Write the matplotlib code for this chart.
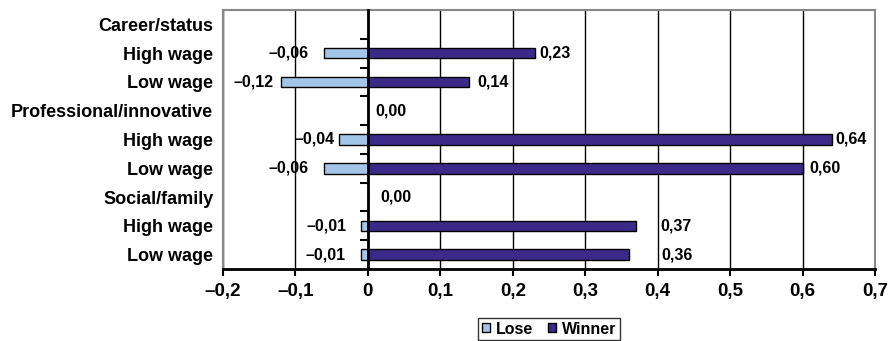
import numpy as np
import matplotlib
matplotlib.use("Agg")
import matplotlib.pyplot as plt
from matplotlib.patches import Patch

plt.rcParams['font.family'] = ['Liberation Sans', 'DejaVu Sans']
plt.rcParams['font.weight'] = 'bold'

categories = ["Career/status", "High wage", "Low wage", "Professional/innovative",
              "High wage", "Low wage", "Social/family", "High wage", "Low wage"]
lose = [np.nan, -0.06, -0.12, np.nan, -0.04, -0.06, np.nan, -0.01, -0.01]
winner = [np.nan, 0.23, 0.14, 0.00, 0.64, 0.60, 0.00, 0.37, 0.36]
xticks = [-0.2, -0.1, 0, 0.1, 0.2, 0.3, 0.4, 0.5, 0.6, 0.7]
xticklabels = ["\u20130,2", "\u20130,1", "0", "0,1", "0,2", "0,3", "0,4", "0,5", "0,6", "0,7"]

# label offsets in pixels (style, not data)
lose_gap = [0, 16, 7, 0, 4, 16, 0, 14, 15]
win_gap = [0, 5, 8, 7, 4, 7, 12, 24, 33]

def fmt(v):
    s = f"{abs(v):.2f}".replace(".", ",")
    return ("\u2013" + s) if v < 0 else s

fig = plt.figure(figsize=(8.93, 3.41), dpi=100)
ax = fig.add_axes([223/893, 1-269/341, (875-223)/893, (269-10)/341])

y = np.arange(len(categories))
c_lose = "#A3C6E8"
c_win = "#3B2A87"
h = 0.37
ax.barh(y, lose, height=h, color=c_lose, edgecolor="black", linewidth=1.0, zorder=3)
ax.barh(y, winner, height=h, color=c_win, edgecolor="black", linewidth=1.0, zorder=3)

ax.set_xlim(-0.2, 0.7)
ax.set_ylim(len(categories) - 0.5, -0.5)
ax.set_xticks(xticks)
ax.set_xticklabels(xticklabels, fontsize=13.5, fontweight='bold')
ax.set_yticks(y)
ax.set_yticklabels(categories, fontsize=13, fontweight='bold')
ax.tick_params(axis='y', length=0, pad=7)
ax.tick_params(axis='x', length=5, width=1.5, direction='out', pad=5, color='black')

ax.set_axisbelow(True)
ax.grid(axis='x', color='black', linewidth=1.0)
ax.grid(axis='y', visible=False)

for s in ['left', 'right', 'top']:
    ax.spines[s].set_color('#888888')
    ax.spines[s].set_linewidth(1.5)
ax.spines['bottom'].set_color('black')
ax.spines['bottom'].set_linewidth(2.0)

# zero axis with category ticks
ax2 = ax.twinx()
ax2.set_ylim(ax.get_ylim())
for s in ['left', 'right', 'top', 'bottom']:
    ax2.spines[s].set_visible(False)
ax2.spines['left'].set_visible(True)
ax2.spines['left'].set_position(('data', 0))
ax2.spines['left'].set_linewidth(2.0)
ax2.spines['left'].set_color('black')
ax2.yaxis.set_ticks_position('left')
ax2.set_yticks(np.arange(len(categories) - 1) + 0.5)
ax2.set_yticklabels([])
ax2.tick_params(axis='y', length=6, width=1.5, direction='out', color='black')
ax2.set_zorder(ax.get_zorder() + 1)
ax2.patch.set_visible(False)

px = 72.0 / fig.dpi
for i in range(len(categories)):
    if not np.isnan(lose[i]):
        ax.annotate(fmt(lose[i]), (lose[i], i), xytext=(-lose_gap[i] * px, 0),
                    textcoords='offset points', ha='right', va='center',
                    fontsize=11.5, fontweight='bold', zorder=5)
    if not np.isnan(winner[i]):
        ax.annotate(fmt(winner[i]), (winner[i], i), xytext=(win_gap[i] * px, 0),
                    textcoords='offset points', ha='left', va='center',
                    fontsize=11.5, fontweight='bold', zorder=5)

handles = [Patch(facecolor=c_lose, edgecolor='black', linewidth=1.0),
           Patch(facecolor=c_win, edgecolor='black', linewidth=1.0)]
leg = fig.legend(handles, ["Lose", "Winner"], loc='center', bbox_to_anchor=(549/893, 1-329/341),
                 ncol=2, frameon=True, fancybox=False,
                 handlelength=0.5, handleheight=0.5, handletextpad=0.4, columnspacing=0.9,
                 borderpad=0.25, prop={'weight': 'bold', 'size': 11.5})
leg.get_frame().set_edgecolor('black')
leg.get_frame().set_linewidth(1.0)

fig.savefig("out.png", dpi=100)
